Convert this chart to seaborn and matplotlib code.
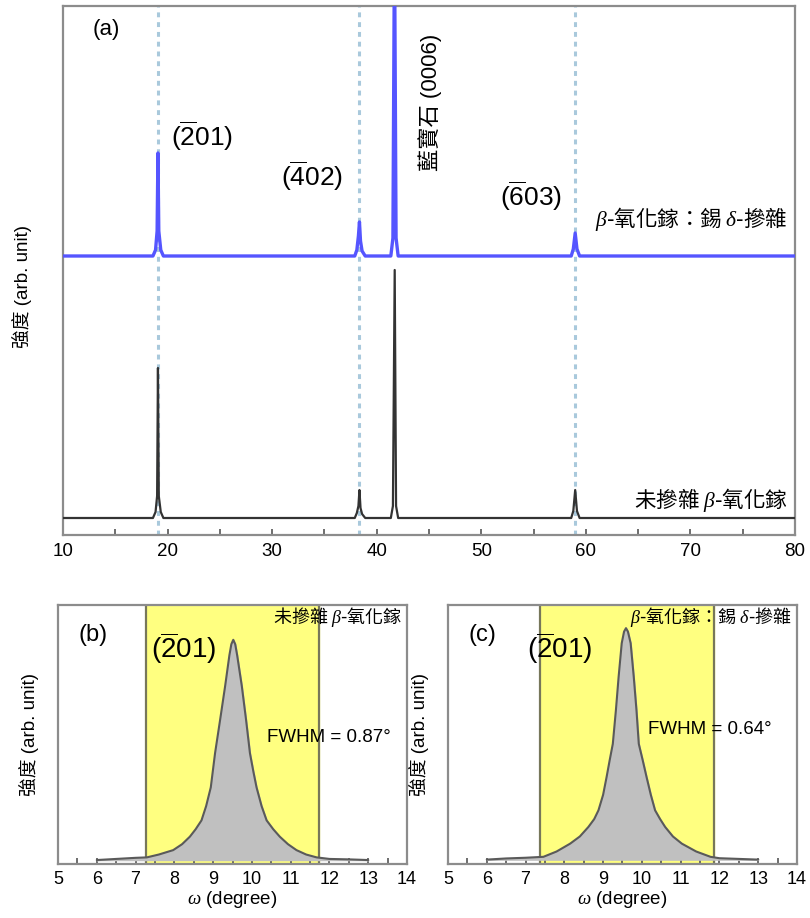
import numpy as np
import pandas as pd
import matplotlib
matplotlib.use("Agg")
import matplotlib.pyplot as plt
import seaborn as sns

# ---- data ----
# (a) 2theta-omega scans, y in arb. units (baseline = 0)
doped_x = [10, 18.6, 18.85, 19.0, 19.08, 19.16, 19.35, 19.6, 37.9, 38.1, 38.25, 38.35, 38.45, 38.6, 38.9,
           41.35, 41.55, 41.7, 41.85, 42.05, 58.6, 58.8, 58.98, 59.15, 59.4, 80]
doped_y = [0, 0, 6, 25, 103, 25, 6, 0, 0, 6, 20, 34, 15, 5, 0,
           0, 18, 320, 18, 0, 0, 7, 23, 7, 0, 0]
undoped_x = [10, 18.6, 18.85, 19.0, 19.08, 19.16, 19.35, 19.6, 37.9, 38.1, 38.25, 38.35, 38.45, 38.6, 38.9,
             41.35, 41.55, 41.72, 41.85, 42.05, 58.6, 58.8, 58.98, 59.15, 59.4, 80]
undoped_y = [0, 0, 6, 22, 150, 22, 6, 0, 0, 5, 12, 28, 10, 4, 0,
             0, 12, 248, 12, 0, 0, 7, 28, 7, 0, 0]
doped_offset = 262
peak_lines = [19.05, 38.3, 58.98]

# (b) undoped rocking curve
b_x = [6.0, 6.5, 7.0, 7.29, 7.6, 7.97, 8.2, 8.40, 8.55, 8.70, 8.82, 8.94, 9.05, 9.18, 9.31, 9.42, 9.47,
       9.52, 9.57, 9.62, 9.74, 9.85, 9.95, 10.04, 10.12, 10.25, 10.38, 10.55, 10.72, 10.93, 11.15, 11.4,
       11.67, 12.0, 12.5, 13.0]
b_y = [0.0, 0.005, 0.01, 0.012, 0.025, 0.045, 0.072, 0.106, 0.14, 0.18, 0.245, 0.33, 0.485, 0.636, 0.79,
       0.93, 0.98, 1.0, 0.98, 0.93, 0.79, 0.636, 0.485, 0.40, 0.33, 0.245, 0.18, 0.14, 0.106, 0.072, 0.045,
       0.025, 0.012, 0.005, 0.003, 0.0]
b_band = [7.27, 11.73]

# (c) Sn delta-doped rocking curve
c_x = [6.0, 6.5, 7.0, 7.46, 7.8, 8.15, 8.4, 8.62, 8.77, 8.88, 9.0, 9.09, 9.17, 9.25, 9.33, 9.40, 9.48,
       9.54, 9.59, 9.64, 9.71, 9.79, 9.86, 9.92, 10.02, 10.12, 10.23, 10.34, 10.47, 10.60, 10.8, 11.03,
       11.4, 11.77, 12.0, 12.5, 13.0]
c_y = [0.0, 0.005, 0.008, 0.012, 0.035, 0.069, 0.10, 0.141, 0.175, 0.213, 0.28, 0.357, 0.43, 0.5, 0.646,
       0.79, 0.935, 0.985, 1.0, 0.985, 0.935, 0.79, 0.646, 0.5, 0.43, 0.357, 0.28, 0.213, 0.175, 0.141,
       0.10, 0.069, 0.035, 0.012, 0.006, 0.003, 0.0]
c_band = [7.37, 11.86]

sns.set_style("white")
plt.rcParams['font.family'] = ['Liberation Sans', 'Noto Sans CJK TC', 'DejaVu Sans']
plt.rcParams['mathtext.fontset'] = 'custom'
plt.rcParams['mathtext.rm'] = 'Liberation Sans'
plt.rcParams['mathtext.it'] = 'Liberation Serif:italic'
plt.rcParams['mathtext.bf'] = 'Liberation Sans:bold'
plt.rcParams['text.color'] = 'black'
plt.rcParams['axes.labelcolor'] = 'black'
plt.rcParams['xtick.color'] = 'black'

W, H = 810, 918
fig = plt.figure(figsize=(W / 100, H / 100), dpi=100)


def px_axes(l, t, r, b):
    return fig.add_axes([l / W, 1 - b / H, (r - l) / W, (b - t) / H])


spine_c = '#8c8c8c'
cjk = 'Noto Sans CJK TC'

# ---- (a) ----
ax = px_axes(63, 6, 795, 535)
for xv in peak_lines:
    ax.axvline(xv, color='#a9c9dc', lw=2.2, ls=(0, (1.6, 1.6)), zorder=1)
sns.lineplot(x=undoped_x, y=undoped_y, ax=ax, color='#333333', lw=1.6, sort=False, zorder=3)
sns.lineplot(x=doped_x, y=np.array(doped_y) + doped_offset, ax=ax, color='#5555ff', lw=2.4,
             sort=False, zorder=3)
ax.set_xlim(10, 80)
ax.set_ylim(-17, 512)
ax.set_xticks(range(10, 81, 10))
ax.set_xticks(range(15, 80, 10), minor=True)
ax.set_yticks([])
ax.tick_params(axis='x', which='both', direction='in', length=4, width=1.2, color='#555555',
               labelsize=13.5, pad=6, bottom=True, labelcolor='black')
ax.set_ylabel('強度 (arb. unit)', fontsize=13.5)
ax.yaxis.set_label_coords(-0.043, 0.47)
for s in ax.spines.values():
    s.set_color(spine_c)
    s.set_linewidth(1.6)

ax.text(0.04, 0.955, '(a)', transform=ax.transAxes, fontsize=16, ha='left', va='center')
ax.text(23.3, 382, r'($\overline{\mathrm{2}}$01)', fontsize=19, ha='center', va='center')
ax.text(33.8, 342, r'($\overline{\mathrm{4}}$02)', fontsize=19, ha='center', va='center')
ax.text(54.8, 322, r'($\overline{\mathrm{6}}$03)', fontsize=19, ha='center', va='center')
ax.text(45.1, 416, '藍寶石 (0006)', fontsize=16, rotation=90, ha='center', va='center')
ax.text(79.3, 299, r'$\beta$-氧化鎵：錫 $\delta$-摻雜', family=cjk, fontsize=15.5,
        ha='right', va='center')
ax.text(79.3, 18, r'未摻雜 $\beta$-氧化鎵', family=cjk, fontsize=15.5, ha='right', va='center')


# ---- (b) and (c) ----
def rocking(ax, xs, ys, band, ylim, label, title, fwhm, fx, fy, hx):
    ax.axvspan(band[0], band[1], color='#ffff80', zorder=0)
    for e in band:
        ax.axvline(e, color='#77775a', lw=1.6, zorder=1)
    ax.fill_between(xs, ys, 0, color='#c0c0c0', zorder=2)
    sns.lineplot(x=xs, y=ys, ax=ax, color='#5a5a5a', lw=1.5, sort=False, zorder=3)
    ax.set_xlim(5, 14)
    ax.set_ylim(*ylim)
    ax.set_xticks(range(5, 15))
    ax.set_xticks(np.arange(5.5, 14, 1), minor=True)
    ax.set_yticks([])
    ax.tick_params(axis='x', which='both', direction='in', length=4, width=1.2, color='#555555',
                   labelsize=13, pad=5, bottom=True, labelcolor='black')
    ax.set_xlabel(r'$\omega$ (degree)', fontsize=13.5, labelpad=1)
    ax.set_ylabel('強度 (arb. unit)', fontsize=13.5, labelpad=14)
    for s in ax.spines.values():
        s.set_color(spine_c)
        s.set_linewidth(1.6)
    ax.text(0.1, 0.885, label, transform=ax.transAxes, fontsize=17, ha='center', va='center')
    ax.text(hx, 0.835, r'($\overline{\mathrm{2}}$01)', transform=ax.transAxes, fontsize=20,
            ha='center', va='center')
    ax.text(0.985, 0.955, title, transform=ax.transAxes, family=cjk, fontsize=13,
            ha='right', va='center')
    ax.text(fx, fy, fwhm, transform=ax.transAxes, fontsize=13.5, ha='left', va='center')


axb = px_axes(58, 605, 407, 864)
rocking(axb, b_x, b_y, b_band, (-0.018, 1.158), '(b)', r'未摻雜 $\beta$-氧化鎵',
        'FWHM = 0.87°', 0.598, 0.49, 0.359)
axc = px_axes(448, 605, 797, 864)
rocking(axc, c_x, c_y, c_band, (-0.019, 1.10), '(c)', r'$\beta$-氧化鎵：錫 $\delta$-摻雜',
        'FWHM = 0.64°', 0.573, 0.52, 0.321)

fig.savefig('out.png', dpi=100)
